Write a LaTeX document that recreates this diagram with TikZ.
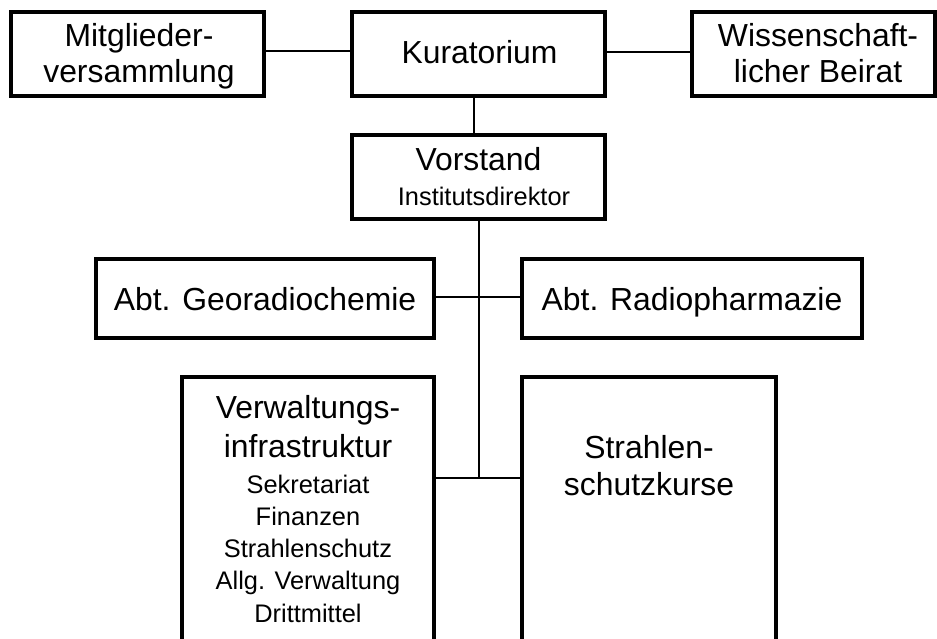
\documentclass[tikz,border=0pt]{standalone}
\usepackage{fontspec}
\setmainfont{Liberation Sans}
\usetikzlibrary{calc}
\newcommand{\bigtxt}{\fontsize{32}{36}\selectfont}
\newcommand{\smalltxt}{\fontsize{25.5}{32}\selectfont}
\tikzset{
  orgbox/.style={draw=black, line width=3.5bp, inner sep=0pt, outer sep=0pt, fill=white},
  conn/.style={draw=black, line width=1.8bp},
  bigt/.style={anchor=base, inner sep=0pt, font=\bigtxt},
  smallt/.style={anchor=base, inner sep=0pt, font=\smalltxt}
}
\begin{document}
\begin{tikzpicture}[x=1bp, y=-1bp]
\useasboundingbox (0,0) rectangle (937,639);
\clip (0,0) rectangle (937,639);
\fill[white] (0,0) rectangle (937,639);
% boxes
\node[orgbox, minimum width=253bp, minimum height=84bp] (mitg) at (137.5,54) {};
\node[orgbox, minimum width=253bp, minimum height=84bp] (kur) at (478.5,54) {};
\node[orgbox, minimum width=243bp, minimum height=84bp] (wiss) at (813.5,54) {};
\node[orgbox, minimum width=253bp, minimum height=84bp] (vor) at (478.5,177) {};
\node[orgbox, minimum width=338bp, minimum height=79bp] (geo) at (265,298.5) {};
\node[orgbox, minimum width=340bp, minimum height=79bp] (rad) at (692,298.5) {};
\node[orgbox, minimum width=252bp, minimum height=323bp] (verw) at (308,538.5) {};
\node[orgbox, minimum width=254bp, minimum height=323bp] (strah) at (649,538.5) {};
% texts
\node[bigt] (t1a) at (139,47) {Mitglieder-};
\node[bigt] (t1b) at (139,83) {versammlung};
\node[bigt] (t2) at (479.5,64) {Kuratorium};
\node[bigt] (t3a) at (818,47) {Wissenschaft-};
\node[bigt] (t3b) at (818,83) {licher Beirat};
\node[bigt] (t4a) at (478.5,171) {Vorstand};
\node[smallt] (t4b) at (484,206) {Institutsdirektor};
\node[bigt] (t5) at (265,310) {Abt. Georadiochemie};
\node[bigt] (t6) at (692,310) {Abt. Radiopharmazie};
\node[bigt] (t7a) at (308,418) {Verwaltungs-};
\node[bigt] (t7b) at (308,457) {infrastruktur};
\node[smallt] (t7c) at (308,493) {Sekretariat};
\node[smallt] (t7d) at (308,525) {Finanzen};
\node[smallt] (t7e) at (308,557) {Strahlenschutz};
\node[smallt] (t7f) at (308,589) {Allg. Verwaltung};
\node[smallt] (t7g) at (308,622) {Drittmittel};
\node[bigt] (t8a) at (649,458) {Strahlen-};
\node[bigt] (t8b) at (649,495) {schutzkurse};
% connectors
\coordinate (jb) at (479,478);
\draw[conn] ($(mitg.east)+(0,-3)$) -- ($(kur.west)+(0,-3)$);
\draw[conn] ($(kur.east)+(0,-2)$) -- ($(wiss.west)+(0,-2)$);
\draw[conn] ($(kur.south)+(-4.5,0)$) -- ($(vor.north)+(-4.5,0)$);
\draw[conn] ($(vor.south)+(0.5,0)$) -- (jb);
\draw[conn] ($(geo.east)+(0,-1.5)$) -- ($(rad.west)+(0,-1.5)$);
\draw[conn] ($(verw.north east)+(0,101)$) -- ($(strah.north west)+(0,101)$);
\end{tikzpicture}
\end{document}
